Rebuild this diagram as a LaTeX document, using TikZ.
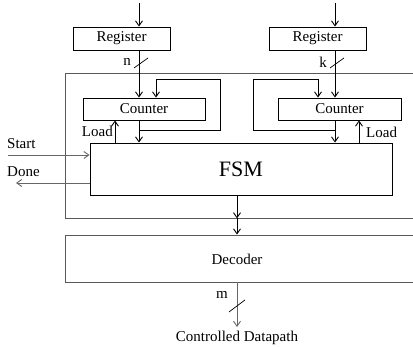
\documentclass[tikz,border=0pt]{standalone}
\usepackage{fontspec}
\setmainfont{Liberation Serif}
\usetikzlibrary{arrows.meta,calc}
\begin{document}
\begin{tikzpicture}[x=1pt,y=-1pt,
  lab/.style={inner sep=0pt,font=\fontsize{15}{17}\selectfont},
  blk/.style={draw,line width=0.9pt,inner sep=0pt,font=\fontsize{15}{17}\selectfont},
  frame/.style={draw=black!65,line width=0.9pt,inner sep=0pt},
  arr/.style={line width=0.9pt,-{Straight Barb[length=5pt,width=7pt]}},
  garr/.style={arr,draw=black!60},
  tick/.style={line width=0.7pt}]
\useasboundingbox (0,0) rectangle (413,347);
\clip (0,0) rectangle (413,347);
% frames
\node[frame,minimum width=365pt,minimum height=145pt] (outer) at (247.5,145.5) {};
\node[frame,minimum width=365pt,minimum height=47pt] (dec) at (247.5,258.5) {};
\node[lab] (dectext) at (237,259) {Decoder};
% registers
\node[blk,minimum width=97pt,minimum height=23pt] (regL) at (121.5,38.5) {Register};
\node[blk,minimum width=97pt,minimum height=23pt] (regR) at (317.5,38.5) {Register};
% counters
\node[blk,minimum width=122pt,minimum height=22pt] (cntL) at (144,109) {Counter};
\node[blk,minimum width=123pt,minimum height=22pt] (cntR) at (339.5,109) {Counter};
% FSM
\node[blk,minimum width=302pt,minimum height=52pt,font=\fontsize{22}{26}\selectfont] (fsm) at (241,169) {FSM};
% coordinates
\coordinate (inL) at (139,3);
\coordinate (inR) at (335,3);
\coordinate (ldL) at (115,0);
\coordinate (ldR) at (359,0);
\coordinate (fbL1) at (139,130);
\coordinate (fbL2) at (220,79);
\coordinate (fbL3) at (156,79);
\coordinate (fbR1) at (335,130);
\coordinate (fbR2) at (253,79);
\coordinate (fbR3) at (318,79);
\coordinate (outx) at (237,0);
\coordinate (startL) at (8,155);
\coordinate (doneL) at (16,183);
\coordinate (dp) at (237,327);
% left chain
\draw[arr] (inL) -- (inL |- regL.north);
\draw[arr] (inL |- regL.south) -- (inL |- cntL.north);
\draw[arr] (inL |- cntL.south) -- (inL |- fsm.north);
\draw[arr] (fbL1) -| (fbL2) -- (fbL3) -- (fbL3 |- cntL.north);
\draw[arr] (ldL |- fsm.north) -- (ldL |- cntL.south);
% right chain
\draw[arr] (inR) -- (inR |- regR.north);
\draw[arr] (inR |- regR.south) -- (inR |- cntR.north);
\draw[arr] (inR |- cntR.south) -- (inR |- fsm.north);
\draw[arr] (fbR1) -| (fbR2) -- (fbR3) -- (fbR3 |- cntR.north);
\draw[arr] (ldR |- fsm.north) -- (ldR |- cntR.south);
% bus ticks
\draw[tick] ($(inL)+(-5,65)$) -- ++(14,-10);
\draw[tick] ($(inR)+(-5,65)$) -- ++(14,-10);
\node[lab] (nlab) at (127,62) {n};
\node[lab] (klab) at (323,62) {k};
% load labels
\node[lab,anchor=east] (loadL) at (113,131) {Load};
\node[lab,anchor=west] (loadR) at (366,132) {Load};
% start / done
\draw[garr] (startL) -- (startL -| fsm.west);
\draw[garr] (doneL -| fsm.west) -- (doneL);
\node[lab,anchor=west] (startT) at (7,144) {Start};
\node[lab,anchor=west] (doneT) at (7,172) {Done};
% outputs
\draw[arr] (outx |- fsm.south) -- (outx |- outer.south);
\draw[arr] (outx |- outer.south) -- (outx |- dec.north);
\draw[garr] (outx |- dec.south) -- (dp);
\draw[tick] ($(dp)+(-8,-15)$) -- ++(16,-12);
\node[lab] (mlab) at (222,295) {m};
\node[lab] (cdp) at (237,338) {Controlled Datapath};
\end{tikzpicture}
\end{document}
